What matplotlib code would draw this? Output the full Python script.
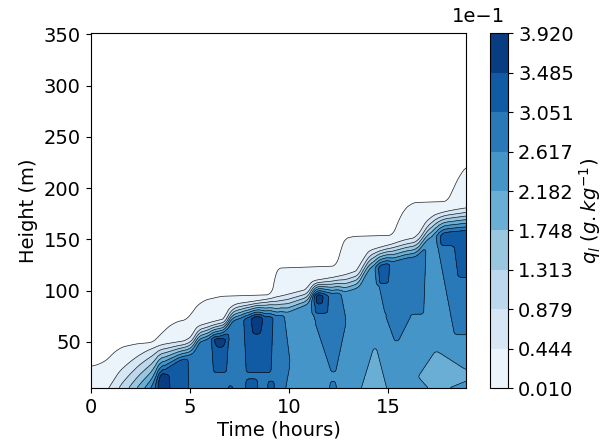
import numpy as np
import matplotlib
matplotlib.use("Agg")
import matplotlib.pyplot as plt

# ---------------- data ----------------
# colour-bar levels (g/kg) and their printed labels (x 1e-1)
cbar_levels = [0.0010, 0.0444, 0.0879, 0.1313, 0.1748, 0.2182, 0.2617, 0.3051, 0.3485, 0.3920]
cbar_labels = ["0.010", "0.444", "0.879", "1.313", "1.748", "2.182", "2.617", "3.051", "3.485", "3.920"]
x_ticks = [0, 5, 10, 15]
y_ticks = [50, 100, 150, 200, 250, 300, 350]

# outer (faint) cloud top, q = 0.001 contour
out_t = [0, 0.4, 0.8, 1.2, 1.6, 2.3, 3.1, 3.35, 3.6, 4.0, 4.4, 4.8, 5.1, 5.4, 5.8, 6.6,
         9.05, 9.15, 9.3, 9.45, 12.35, 12.5, 12.65, 12.85, 13.3, 15.2, 15.4, 15.6, 15.9,
         16.3, 17.95, 18.2, 18.4, 18.7, 18.95]
out_h = [26, 28, 32, 40, 45, 48, 49.5, 54, 59, 66, 70, 71.5, 78, 86, 91, 94.5,
         96, 104, 116, 122, 124, 133, 144, 151, 153, 154, 163, 172, 181,
         186, 187, 196, 205, 215, 221]

# top of the dense layer, q = 0.044 contour
top_t = [0, 0.93, 1.5, 2.0, 2.45, 2.85, 3.15, 3.6, 4.8, 5.15, 5.45, 6.1, 6.8, 7.1, 7.4,
         8.3, 9.6, 10.9, 11.25, 12.9, 13.5, 13.8, 14.1, 15.9, 16.4, 16.7, 17.0, 17.4,
         17.95, 18.95]
top_h = [-20, 5, 22, 30.5, 37, 41.5, 44, 47, 50.5, 55, 65, 68.5, 72, 84, 87,
         89.5, 94, 100.5, 109, 115, 119, 130, 139, 149, 151, 157, 168, 174,
         177, 180]

# thickness of the dense top layer (m)
thick_t = [0.93, 1.45, 2.0, 2.45, 2.85, 3.15, 3.6, 4.5, 6.0, 8.0, 9.6, 11.25, 13.0, 15.9, 18.95]
thick_v = [105, 80, 64, 53, 46, 39, 28, 19, 16, 16, 20, 15, 18, 19, 23]

# background in-cloud value
bg_t = [0, 9.3, 9.5, 19]
bg_v = [0.283, 0.283, 0.240, 0.240]

# patches: value, h_bottom, h_top, t_left_bottom, t_right_bottom, t_left_top, t_right_top
patch_val = [0.283, 0.283, 0.283, 0.283, 0.283, 0.283, 0.283, 0.283,
             0.327, 0.327, 0.327, 0.327, 0.327, 0.327, 0.327, 0.327, 0.327, 0.327,
             0.385, 0.385, 0.385, 0.385,
             0.200, 0.200, 0.200]
patch_hb = [29, -10, 70, 20, 77, 50, 57, -10,
            -10, 20, 20, -10, -10, -10, 77, 106, 143, 112,
            -10, 44, 57, 86,
            -10, 16, 3]
patch_ht = [110, 29, 130, 70, 160, 77, 200, 12,
            60, 80, 100, 14, 12, 8, 120, 150, 200, 150,
            19, 53.5, 80, 120,
            50, 42, 16]
patch_tlb = [2.0, 2.0, 11.3, 12.15, 14.85, 15.35, 18.35, 11.95,
             3.25, 6.2, 7.85, 7.75, 8.9, 6.85, 11.25, 14.5, 17.6, 18.5,
             3.3, 6.4, 8.2, 11.35,
             13.4, 16.5, 17.1]
patch_trb = [10.07, 9.7, 12.9, 12.35, 16.8, 15.5, 19.5, 12.5,
             4.95, 6.85, 9.1, 8.5, 9.3, 7.25, 12.0, 15.05, 19.5, 19.5,
             4.05, 6.65, 8.55, 11.7,
             15.15, 19.5, 17.85]
patch_tlt = [2.0, 2.0, 10.95, 11.3, 13.95, 14.85, 16.95, 12.1,
             3.35, 6.0, 7.65, 7.85, 8.95, 6.95, 11.15, 14.33, 17.6, 18.25,
             3.45, 6.15, 8.05, 11.2,
             14.35, 17.4, 16.5]
patch_trt = [9.55, 10.07, 12.3, 12.9, 16.95, 16.2, 19.5, 12.35,
             4.9, 7.05, 9.25, 8.4, 9.25, 7.15, 12.1, 15.25, 19.5, 19.5,
             3.95, 6.9, 8.75, 11.85,
             14.35, 17.4, 19.5]

# ---------------- build the field ----------------
t = np.linspace(0, 18.95, 380)
z = np.linspace(5, 351, 693)
T, Z = np.meshgrid(t, z)

h_out = np.interp(t, out_t, out_h)[None, :]
h_top = np.interp(t, top_t, top_h)
h_core = h_top - np.interp(t, thick_t, thick_v)
bg = np.interp(t, bg_t, bg_v)[None, :] * np.ones_like(Z)


def member(hb, ht, tlb, trb, tlt, trt):
    f = np.clip((Z - hb) / (ht - hb), 0, 1)
    tl = tlb + (tlt - tlb) * f
    tr = trb + (trt - trb) * f
    s = np.minimum.reduce([(T - tl) / 0.18, (tr - T) / 0.18,
                           (Z - hb) / 3.5, (ht - Z) / 3.5])
    return np.clip(0.5 + s, 0, 1)


qi = bg.copy()
for v, hb, hh, a, b, c, d in zip(patch_val, patch_hb, patch_ht, patch_tlb,
                                 patch_trb, patch_tlt, patch_trt):
    m = member(hb, hh, a, b, c, d)
    if v >= 0.24:
        qi = np.maximum(qi, bg + (v - bg) * m)
    else:
        qi = qi + (v - qi) * m

qc = np.array([np.interp(max(h_core[j], 5), z, qi[:, j]) for j in range(len(t))])[None, :]
hc = h_core[None, :]
htp = h_top[None, :]

q = qi.copy()
stack = qc + (0.044 - qc) * (Z - hc) / (htp - hc)
upper = 0.044 - 0.043 * (Z - htp) / (h_out - htp)
q = np.where(Z > hc, stack, q)
q = np.where(Z > htp, upper, q)


def smooth(a, n, axis):
    k = np.ones(n) / n
    pad = [(0, 0), (0, 0)]
    pad[axis] = (n, n)
    ap = np.pad(a, pad, mode="edge")
    out = np.apply_along_axis(lambda r: np.convolve(r, k, mode="same"), axis, ap)
    sl = [slice(None), slice(None)]
    sl[axis] = slice(n, -n)
    return out[tuple(sl)]


q = smooth(smooth(q, 7, 1), 7, 0)

# ---------------- plot ----------------
fig = plt.figure(figsize=(6.08, 4.46), dpi=100)
ax = fig.add_axes([0.149, 0.130, 0.618, 0.795])
cax = fig.add_axes([0.806, 0.130, 0.030, 0.795])

cs = ax.contourf(T, Z, q, levels=cbar_levels, cmap="Blues")
ax.contour(T, Z, q, levels=cbar_levels, colors="k", linewidths=0.5, alpha=0.85)
ax.set_xlim(0, 18.95)
ax.set_ylim(5, 351)
ax.set_xticks(x_ticks)
ax.set_yticks(y_ticks)
ax.tick_params(labelsize=14)
ax.set_xlabel("Time (hours)", fontsize=14, labelpad=3)
ax.set_ylabel("Height (m)", fontsize=14)

cb = fig.colorbar(cs, cax=cax, ticks=cbar_levels)
cb.ax.set_yticklabels(cbar_labels)
cb.ax.tick_params(labelsize=14)
cb.set_label(r"$q_l$ $(g.kg^{-1})$", fontsize=14, labelpad=2)
fig.text(0.831, 0.963, "1e\u22121", fontsize=14, ha="right", va="center")

fig.savefig("out.png", dpi=100)
